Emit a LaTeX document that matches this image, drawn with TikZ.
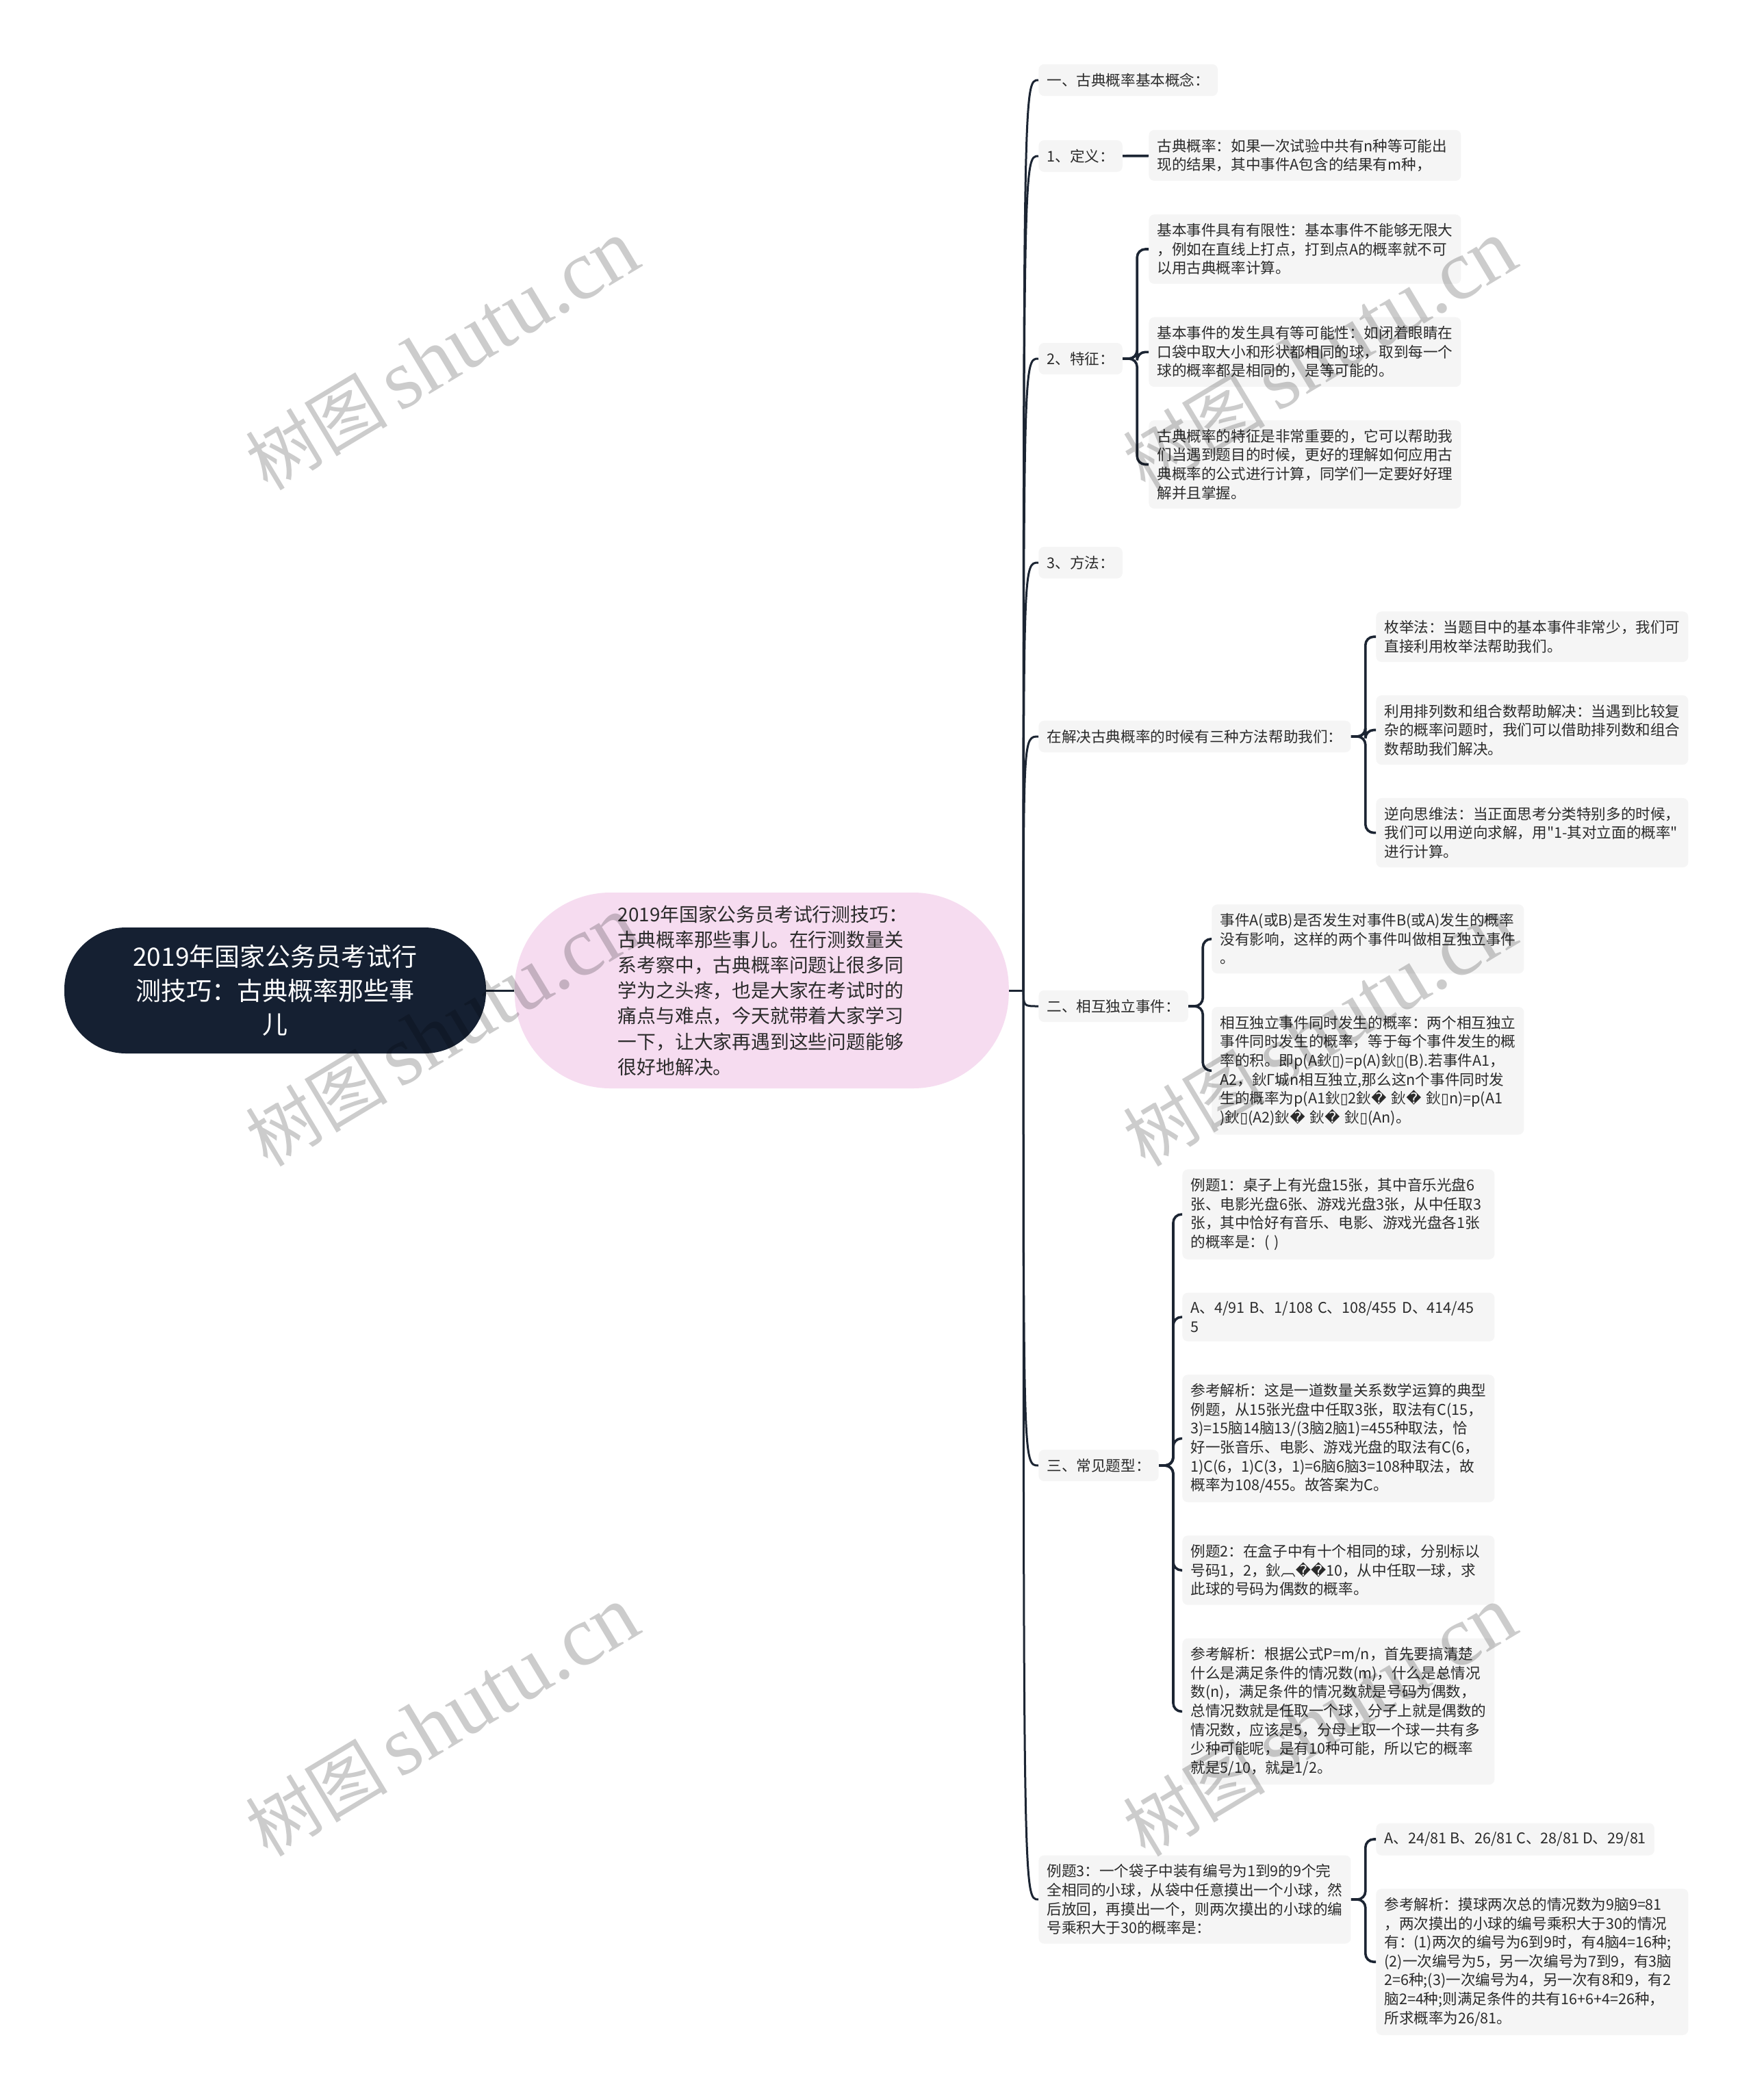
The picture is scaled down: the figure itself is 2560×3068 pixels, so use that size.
\documentclass[tikz,border=0pt]{standalone}
\usepackage{fontspec}
\setmainfont{Noto Sans CJK SC}[Ligatures=TeXOff]
\newfontfamily\dvs{DejaVu Sans}
\newfontfamily\wmserif{Liberation Serif}
\usetikzlibrary{positioning}
\definecolor{navy}{HTML}{152032}
\definecolor{lilac}{HTML}{F6DCF0}
\definecolor{boxgray}{HTML}{F5F5F5}
\definecolor{ink}{HTML}{2B2B2B}
\definecolor{linec}{HTML}{1C2533}
\newcommand{\tofu}{{\dvs ▯}}
\newcommand{\badch}{{\dvs �}}

\begin{document}
\begin{tikzpicture}[
  x=0.5pt, y=-0.5pt,
  font=\fontsize{10.8}{13.8}\selectfont,
  tag/.style  ={fill=boxgray, rounded corners=4pt, inner xsep=6pt,
                inner ysep=6.5pt, text=ink, anchor=west},
  leaf/.style ={tag, text width=216pt, align=left, anchor=north west},
  root/.style ={fill=navy, text=white, rounded corners=45pt, align=center,
                minimum width=308pt, minimum height=92pt, text width=230pt,
                font=\fontsize{18.5}{24.7}\selectfont},
  topic/.style={fill=lilac, text=ink, rounded corners=70pt, align=left,
                minimum width=361pt, minimum height=143pt, text width=210pt,
                font=\fontsize{13.9}{18.6}\selectfont},
  trunk/.style={draw=linec, line width=1.5pt},
  br/.style   ={draw=linec, line width=1.8pt, rounded corners=6pt},
  wmark/.style={rotate=31, text=black, opacity=0.2,
                font=\fontsize{52}{60}\selectfont},
  node distance=24pt,
]

\fill[white] (0,0) rectangle (2560,3068);
\useasboundingbox (0,0) rectangle (2560,3068);

\node[root] (root) at (402,1447) {%
  2019年国家公务员考试行\\测技巧：古典概率那些事\\儿};

\node[topic, right=20.5pt of root] (pink) {%
  2019年国家公务员考试行测技巧：\\
  古典概率那些事儿。在行测数量关\\
  系考察中，古典概率问题让很多同\\
  学为之头疼，也是大家在考试时的\\
  痛点与难点，今天就带着大家学习\\
  一下，让大家再遇到这些问题能够\\
  很好地解决。};

\coordinate[right=10.5pt of pink] (hub);

\node[tag] (t1) at (1517,117) {一、古典概率基本概念：};
\node[tag] (t2) at (1517,228) {1、定义：};
\node[tag] (t3) at (1517,524) {2、特征：};
\node[tag] (t4) at (1517,822) {3、方法：};
\node[tag] (t5) at (1517,1076) {在解决古典概率的时候有三种方法帮助我们：};
\node[tag] (t6) at (1517,1470) {二、相互独立事件：};
\node[tag] (t7) at (1517,2141) {三、常见题型：};
\node[leaf, anchor=west] (t8) at (1517,2775) {%
  例题3：一个袋子中装有编号为1到9的9个完\\
  全相同的小球，从袋中任意摸出一个小球，然\\
  后放回，再摸出一个，则两次摸出的小球的编\\
  号乘积大于30的概率是：};

\node[leaf, anchor=west] (d1) at (1678,227) {%
  古典概率：如果一次试验中共有n种等可能出\\
  现的结果，其中事件A包含的结果有m种，};

\node[leaf] (f1) at (1678,313) {%
  基本事件具有有限性：基本事件不能够无限大\\
  ，例如在直线上打点，打到点A的概率就不可\\
  以用古典概率计算。};
\node[leaf, below=of f1] (f2) {%
  基本事件的发生具有等可能性：如闭着眼睛在\\
  口袋中取大小和形状都相同的球，取到每一个\\
  球的概率都是相同的，是等可能的。};
\node[leaf, below=of f2] (f3) {%
  古典概率的特征是非常重要的，它可以帮助我\\
  们当遇到题目的时候，更好的理解如何应用古\\
  典概率的公式进行计算，同学们一定要好好理\\
  解并且掌握。};

\node[leaf] (m1) at (2010,893) {%
  枚举法：当题目中的基本事件非常少，我们可\\
  直接利用枚举法帮助我们。};
\node[leaf, below=of m1] (m2) {%
  利用排列数和组合数帮助解决：当遇到比较复\\
  杂的概率问题时，我们可以借助排列数和组合\\
  数帮助我们解决。};
\node[leaf, below=of m2] (m3) {%
  逆向思维法：当正面思考分类特别多的时候，\\
  \mbox{我们可以用逆向求解，用"1-其对立面的概率"}\\
  进行计算。};

\node[leaf] (i1) at (1770,1321) {%
  事件A(或B)是否发生对事件B(或A)发生的概率\\
  没有影响，这样的两个事件叫做相互独立事件\\
  。};
\node[leaf, below=of i1] (i2) {%
  相互独立事件同时发生的概率：两个相互独立\\
  事件同时发生的概率，等于每个事件发生的概\\
  率的积。即p(A鈥\tofu)=p(A)鈥\tofu(B).若事件A1，\\
  A2，鈥Γ城n相互独立,那么这n个事件同时发\\
  生的概率为p(A1鈥\tofu 2鈥\badch{} 鈥\badch{} 鈥\tofu n)=p(A1\\
  )鈥\tofu(A2)鈥\badch{} 鈥\badch{} 鈥\tofu(An)。};

\node[leaf] (e1) at (1727,1708) {%
  例题1：桌子上有光盘15张，其中音乐光盘6\\
  张、电影光盘6张、游戏光盘3张，从中任取3\\
  张，其中恰好有音乐、电影、游戏光盘各1张\\
  的概率是：( )};
\node[leaf, below=of e1] (e2) {%
  A、4/91 B、1/108 C、108/455 D、414/45\\
  5};
\node[leaf, below=of e2] (e3) {%
  参考解析：这是一道数量关系数学运算的典型\\
  例题，从15张光盘中任取3张，取法有C(15，\\
  3)=15脑14脑13/(3脑2脑1)=455种取法，恰\\
  好一张音乐、电影、游戏光盘的取法有C(6，\\
  1)C(6，1)C(3，1)=6脑6脑3=108种取法，故\\
  概率为108/455。故答案为C。};
\node[leaf, below=of e3] (e4) {%
  例题2：在盒子中有十个相同的球，分别标以\\
  号码1，2，鈥︹\badch\badch 10，从中任取一球，求\\
  此球的号码为偶数的概率。};
\node[leaf, below=of e4] (e5) {%
  参考解析：根据公式P=m/n，首先要搞清楚\\
  什么是满足条件的情况数(m)，什么是总情况\\
  数(n)，满足条件的情况数就是号码为偶数，\\
  总情况数就是任取一个球，分子上就是偶数的\\
  情况数，应该是5，分母上取一个球一共有多\\
  少种可能呢，是有10种可能，所以它的概率\\
  就是5/10，就是1/2。};

\node[tag] (x1) at (2010,2687) {A、24/81 B、26/81 C、28/81 D、29/81};
\node[leaf, below=of x1.south west, anchor=north west] (x2) {%
  参考解析：摸球两次总的情况数为9脑9=81\\
  ，两次摸出的小球的编号乘积大于30的情况\\
  有：(1)两次的编号为6到9时，有4脑4=16种;\\
  (2)一次编号为5，另一次编号为7到9，有3脑\\
  2=6种;(3)一次编号为4，另一次有8和9，有2\\
  脑2=4种;则满足条件的共有16+6+4=26种，\\
  所求概率为26/81。};

\draw[trunk] (root) -- (pink);
\draw[trunk] (pink) -- (hub);
\foreach \lbl in {t1,t2,t3,t4,t5,t6,t7,t8}
  \draw[trunk] (hub) .. controls (hub |- \lbl.west) .. (\lbl.west);

\draw[br] (t2) -- (d1);
\foreach \c in {f1,f2,f3} \draw[br] (t3.east) -- ++(10.5pt,0) |- (\c.west);
\foreach \c in {m1,m2,m3} \draw[br] (t5.east) -- ++(10.5pt,0) |- (\c.west);
\foreach \c in {i1,i2} \draw[br] (t6.east) -- ++(10.5pt,0) |- (\c.west);
\foreach \c in {e1,e2,e3,e4,e5} \draw[br] (t7.east) -- ++(10.5pt,0) |- (\c.west);
\foreach \c in {x1,x2} \draw[br] (t8.east) -- ++(10.5pt,0) |- (\c.west);

\foreach \wx/\wy [count=\i] in {646/519,1928/519,646/1507,1928/1507,646/2515,1928/2515}
  \node[wmark] (w\i) at (\wx,\wy)
    {树图\,{\wmserif\fontsize{62}{62}\selectfont shutu.cn}};

\end{tikzpicture}
\end{document}
